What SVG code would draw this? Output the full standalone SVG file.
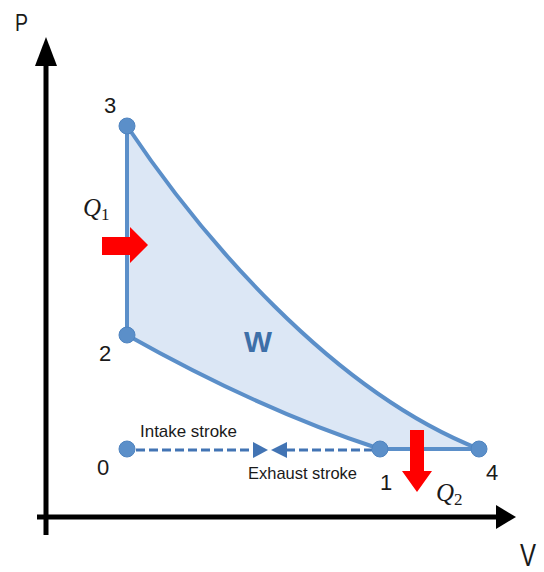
<svg xmlns="http://www.w3.org/2000/svg" width="544" height="572" viewBox="0 0 544 572">
<style>
.lbl{font-family:"Liberation Sans",Arial,sans-serif;fill:#1a1a1a}
.q{font-family:"Liberation Serif","Times New Roman",serif;font-style:italic;fill:#1a1a1a}
.cyc{fill:none;stroke:#5b8fc9;stroke-width:4}
.dot{fill:#5b8fc9;stroke:#4f84c0;stroke-width:1}
.red{fill:#ff0000}
</style>
<rect width="544" height="572" fill="#ffffff"/>
<g id="axes">
<line x1="46" y1="535" x2="46" y2="60" stroke="#000" stroke-width="5"/>
<polygon points="46,37 35,66 57,66" fill="#000"/>
<line x1="37" y1="517" x2="500" y2="517" stroke="#000" stroke-width="5"/>
<polygon points="516,517 496,505 496,529" fill="#000"/>
<text class="lbl" x="15" y="31" font-size="24" textLength="13" lengthAdjust="spacingAndGlyphs">P</text>
<text class="lbl" x="520" y="566" font-size="32" textLength="16" lengthAdjust="spacingAndGlyphs">V</text>
</g>
<g id="cycle">
<path d="M127,126 C200,235 330,390 479,449 L380,449 Q260,410 127,335 Z" fill="#dce7f5" stroke="none"/>
<path class="cyc" d="M127,126 C200,235 330,390 479,449"/>
<path class="cyc" d="M127,335 Q260,410 380,449"/>
<line class="cyc" x1="127" y1="126" x2="127" y2="335"/>
<line class="cyc" x1="380" y1="449" x2="479" y2="449" stroke-width="5"/>
<text x="244" y="352" font-family="Liberation Sans,Arial,sans-serif" font-weight="bold" font-size="30" fill="#3d6fa8" textLength="28" lengthAdjust="spacingAndGlyphs">W</text>
</g>
<g id="connectors">
<line x1="136" y1="450" x2="254" y2="450" stroke="#4274b4" stroke-width="3" stroke-dasharray="9,4"/>
<line x1="286" y1="450" x2="372" y2="450" stroke="#4274b4" stroke-width="3" stroke-dasharray="9,4"/>
<polygon points="253,442 268,450 253,458" fill="#4274b4"/>
<polygon points="287,442 271,450 287,458" fill="#4274b4"/>
<text class="lbl" x="140" y="437" font-size="17" textLength="97" lengthAdjust="spacingAndGlyphs">Intake stroke</text>
<text class="lbl" x="248" y="479" font-size="17" textLength="109" lengthAdjust="spacingAndGlyphs">Exhaust stroke</text>
</g>
<g id="node-3"><circle class="dot" cx="127" cy="126" r="8"/><text class="lbl" x="104" y="113" font-size="22">3</text></g>
<g id="node-2"><circle class="dot" cx="127" cy="335" r="8"/><text class="lbl" x="99" y="361" font-size="22">2</text></g>
<g id="node-0"><circle class="dot" cx="127" cy="449" r="8"/><text class="lbl" x="97" y="475" font-size="22">0</text></g>
<g id="node-1"><circle class="dot" cx="380" cy="449" r="8"/><text class="lbl" x="380" y="490" font-size="22">1</text></g>
<g id="node-4"><circle class="dot" cx="479" cy="449" r="8"/><text class="lbl" x="486" y="480" font-size="22">4</text></g>
<g id="q1">
<polygon class="red" points="102,237 130,237 130,227 148,245 130,263 130,255 102,255"/>
<text class="q" x="83" y="216" font-size="25">Q<tspan font-size="17" font-style="normal" dy="4">1</tspan></text>
</g>
<g id="q2">
<polygon class="red" points="410,430 424,430 424,471 432,471 417,492 402,471 410,471"/>
<text class="q" x="436" y="501" font-size="25">Q<tspan font-size="17" font-style="normal" dy="4">2</tspan></text>
</g>
</svg>
